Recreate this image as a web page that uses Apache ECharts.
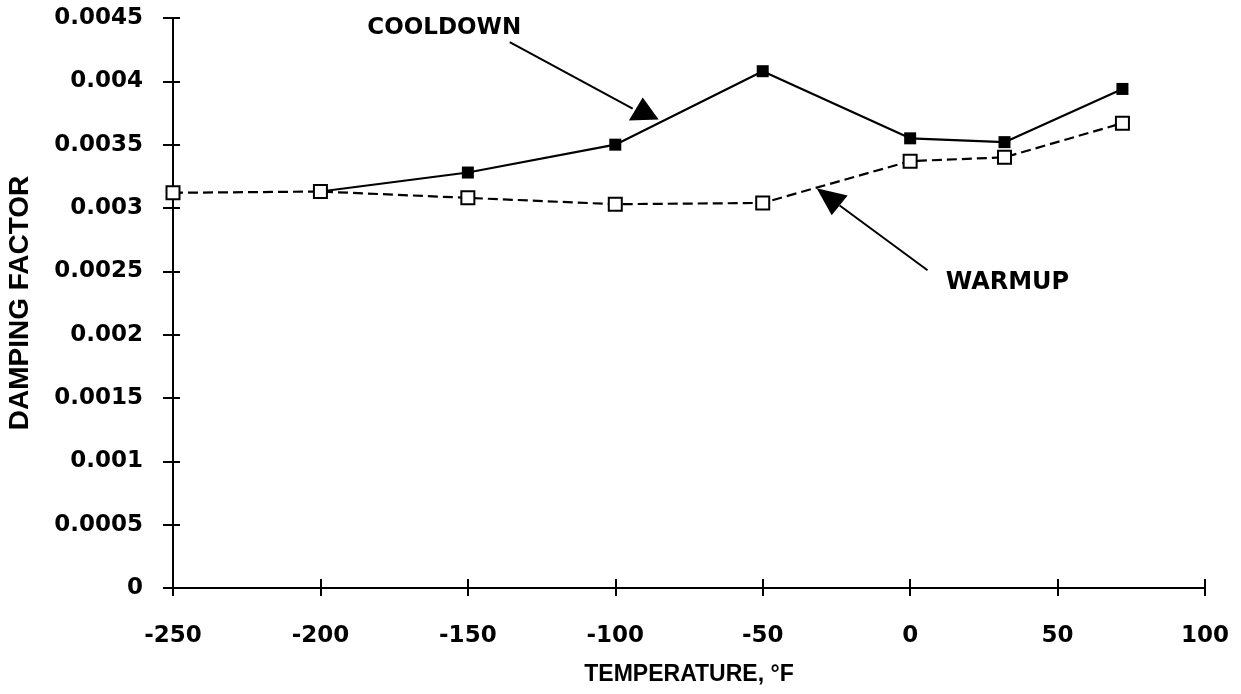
<!DOCTYPE html>
<html>
<head>
<meta charset="utf-8">
<script src="https://cdn.jsdelivr.net/npm/echarts@6/dist/echarts.min.js"></script>
<style>
html,body{margin:0;padding:0;background:#fff;}
#chart{width:1241px;height:694px;}
</style>
</head>
<body>
<div id="chart"></div>
<script>
// ---- data ----
var temps = [-250, -200, -150, -100, -50, 0, 32, 72];
var cooldownTemps = [-200, -150, -100, -50, 0, 32, 72];
var cooldown = [0.00313, 0.00328, 0.00350, 0.00408, 0.00355, 0.00352, 0.00394];
var warmup = [0.00312, 0.00313, 0.00308, 0.00303, 0.00304, 0.00337, 0.00340, 0.00367];
var xTicks = [-250, -200, -150, -100, -50, 0, 50, 100];
var yTicks = [0, 0.0005, 0.001, 0.0015, 0.002, 0.0025, 0.003, 0.0035, 0.004, 0.0045];
var xTitle = 'TEMPERATURE, °F';
var yTitle = 'DAMPING FACTOR';
var coolLabel = 'COOLDOWN';
var warmLabel = 'WARMUP';
// annotation anchors in data coordinates [temp, damping]
var coolTextPos = [-158, 0.00442];
var coolLine = [[-135.8, 0.00431], [-94.1, 0.003785]];
var coolHead = [[-90.7, 0.003872], [-95.4, 0.003691], [-85.3, 0.003699]];
var warmTextPos = [33, 0.002413];
var warmLine = [[5.9, 0.002508], [-23.9, 0.00302]];
var warmHead = [[-31.7, 0.003155], [-26.6, 0.002942], [-21.2, 0.003099]];

function zip(xs, ys){ return xs.map(function(x,i){ return [x, ys[i]]; }); }
function fmtY(v){ return String(parseFloat(Number(v).toFixed(5))); }

var tickFont = {fontFamily:'DejaVu Sans', fontWeight:'bold', fontSize:23, color:'#000'};

var chart = echarts.init(document.getElementById('chart'), null, {renderer:'canvas'});
var option = {
  backgroundColor:'#fff',
  animation:false,
  grid:{left:173, right:36, top:18, bottom:106, containLabel:false, outerBoundsMode:'none'},
  xAxis:[{
    type:'value', min:xTicks[0], max:xTicks[xTicks.length-1], interval:50,
    axisLine:{show:true, onZero:false, lineStyle:{color:'#000', width:2}},
    axisTick:{show:true, inside:true, length:9, lineStyle:{color:'#000', width:2}},
    splitLine:{show:false},
    axisLabel:Object.assign({margin:37, formatter:function(v){return String(v);}}, tickFont),
    name:xTitle, nameLocation:'middle', nameGap:75,
    nameTextStyle:{fontFamily:'Liberation Sans', fontWeight:'bold', fontSize:23, color:'#000'}
  },{
    type:'value', min:xTicks[0], max:xTicks[xTicks.length-1], interval:50, position:'bottom',
    axisLine:{show:false, onZero:false}, axisTick:{show:true, inside:false, length:8, lineStyle:{color:'#000', width:2}},
    axisLabel:{show:false}, splitLine:{show:false}
  }],
  yAxis:[{
    type:'value', min:0, max:yTicks[yTicks.length-1], interval:0.0005,
    axisLine:{show:true, onZero:false, lineStyle:{color:'#000', width:2}},
    axisTick:{show:true, inside:true, length:7, lineStyle:{color:'#000', width:2}},
    splitLine:{show:false},
    axisLabel:Object.assign({margin:30, formatter:fmtY}, tickFont),
    name:yTitle, nameLocation:'middle', nameGap:139, nameRotate:90,
    nameTextStyle:{fontFamily:'Liberation Sans', fontWeight:'bold', fontSize:28, color:'#000'}
  },{
    type:'value', min:0, max:yTicks[yTicks.length-1], interval:0.0005, position:'left',
    axisLine:{show:false, onZero:false}, axisTick:{show:true, inside:false, length:10, lineStyle:{color:'#000', width:2}},
    axisLabel:{show:false}, splitLine:{show:false}
  }],
  series:[{
    name:coolLabel, type:'line', data:zip(cooldownTemps, cooldown), z:2,
    symbol:'rect', symbolSize:12, showSymbol:true,
    lineStyle:{color:'#000', width:2.2},
    itemStyle:{color:'#000', borderColor:'#000', borderWidth:0}
  },{
    name:warmLabel, type:'line', data:zip(temps, warmup), z:3,
    symbol:'rect', symbolSize:13,
    lineStyle:{color:'#000', width:2.2, type:[10,5]},
    itemStyle:{color:'#fff', borderColor:'#000', borderWidth:2}
  }]
};
chart.setOption(option);

function px(p){ return chart.convertToPixel({xAxisIndex:0, yAxisIndex:0}, p); }
var ct = px(coolTextPos), wt = px(warmTextPos);
var cl0 = px(coolLine[0]), cl1 = px(coolLine[1]);
var wl0 = px(warmLine[0]), wl1 = px(warmLine[1]);
chart.setOption({graphic:[
  {type:'text', x:ct[0], y:ct[1], z:10,
   style:{text:coolLabel, fontFamily:'DejaVu Sans', fontWeight:'bold', fontSize:23, fill:'#000', align:'center', verticalAlign:'middle'}},
  {type:'line', z:10, shape:{x1:cl0[0], y1:cl0[1], x2:cl1[0], y2:cl1[1]}, style:{stroke:'#000', lineWidth:2}},
  {type:'polygon', z:10, shape:{points:coolHead.map(px)}, style:{fill:'#000'}},
  {type:'text', x:wt[0], y:wt[1], z:10,
   style:{text:warmLabel, fontFamily:'DejaVu Sans', fontWeight:'bold', fontSize:24, fill:'#000', align:'center', verticalAlign:'middle'}},
  {type:'line', z:10, shape:{x1:wl0[0], y1:wl0[1], x2:wl1[0], y2:wl1[1]}, style:{stroke:'#000', lineWidth:2}},
  {type:'polygon', z:10, shape:{points:warmHead.map(px)}, style:{fill:'#000'}}
]});
</script>
</body>
</html>
